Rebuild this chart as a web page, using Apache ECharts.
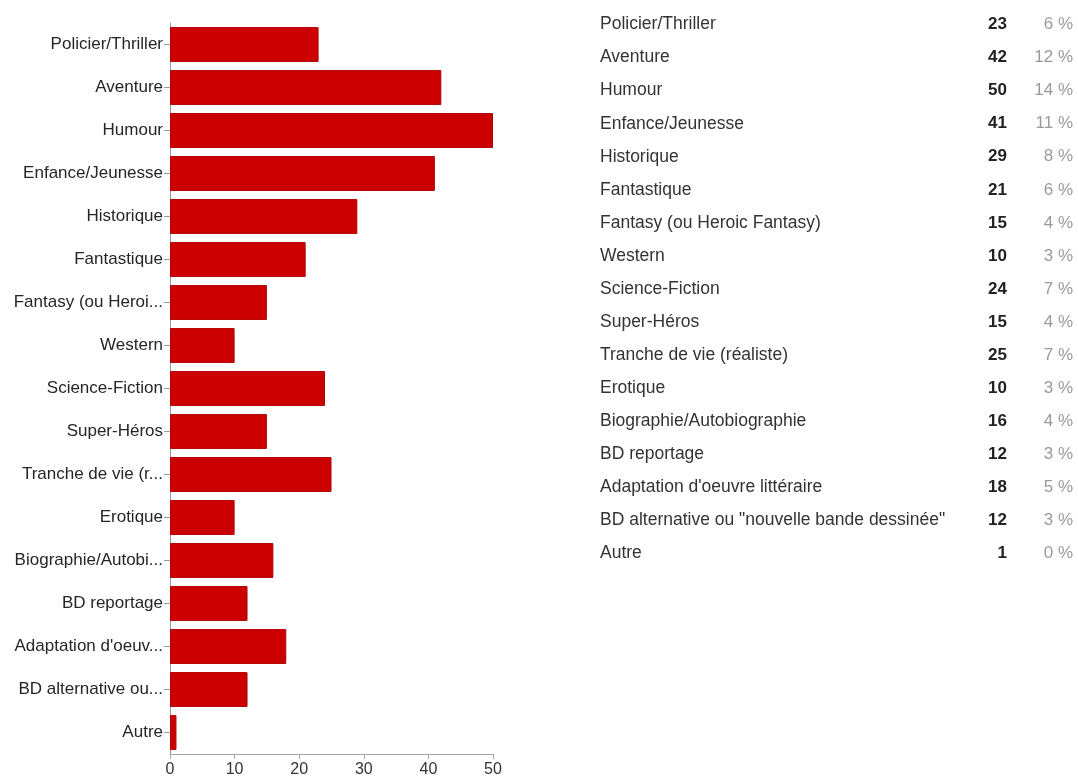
<!DOCTYPE html>
<html>
<head>
<meta charset="utf-8">
<script src="https://cdn.jsdelivr.net/npm/echarts@6/dist/echarts.min.js"></script>
<style>
  html, body { margin: 0; padding: 0; background: #ffffff; }
  #chart { width: 1078px; height: 778px; }
</style>
</head>
<body>
<div id="chart"></div>
<script>
// Genres of comics (BD) chosen, with response counts and shares
const genres = [
  'Policier/Thriller',
  'Aventure',
  'Humour',
  'Enfance/Jeunesse',
  'Historique',
  'Fantastique',
  'Fantasy (ou Heroic Fantasy)',
  'Western',
  'Science-Fiction',
  'Super-Héros',
  'Tranche de vie (réaliste)',
  'Erotique',
  'Biographie/Autobiographie',
  'BD reportage',
  "Adaptation d'oeuvre littéraire",
  'BD alternative ou "nouvelle bande dessinée"',
  'Autre'
];
const counts = [23, 42, 50, 41, 29, 21, 15, 10, 24, 15, 25, 10, 16, 12, 18, 12, 1];
const percents = [6, 12, 14, 11, 8, 6, 4, 3, 7, 4, 7, 3, 4, 3, 5, 3, 0];
const xTicks = { min: 0, max: 50, step: 10 };

const FONT = '"Liberation Sans", Arial, sans-serif';

// long genre names are shortened on the bar axis
function shortName(name) {
  return name.length > 20 ? name.slice(0, 17) + '...' : name;
}

const chart = echarts.init(document.getElementById('chart'), null, { renderer: 'canvas' });

chart.setOption({
  backgroundColor: '#ffffff',
  animation: false,
  textStyle: { fontFamily: FONT },
  grid: [
    { left: 170, top: 23, width: 323, height: 734, containLabel: false },
    { left: 600, top: 8, width: 473, height: 562, containLabel: false }
  ],
  xAxis: [
    {
      gridIndex: 0,
      type: 'value',
      min: xTicks.min,
      max: xTicks.max,
      interval: xTicks.step,
      axisLine: { show: true, lineStyle: { color: '#a6a6a6', width: 1 } },
      axisTick: { show: true, inside: false, length: 5, lineStyle: { color: '#a6a6a6' } },
      splitLine: { show: false },
      axisLabel: { color: '#333333', fontSize: 16, margin: 8, fontFamily: FONT }
    },
    {
      gridIndex: 1,
      type: 'value',
      min: 0,
      max: 1,
      show: false
    }
  ],
  yAxis: [
    {
      gridIndex: 0,
      type: 'category',
      inverse: true,
      data: genres,
      axisLine: { show: true, lineStyle: { color: '#9a9a9a', width: 1 } },
      axisTick: { show: true, alignWithLabel: true, length: 6, lineStyle: { color: '#9a9a9a' } },
      axisLabel: {
        interval: 0,
        color: '#262626',
        fontSize: 17,
        margin: 7,
        fontFamily: FONT,
        formatter: function (v) { return shortName(v); }
      }
    },
    {
      gridIndex: 1,
      type: 'category',
      inverse: true,
      data: genres,
      axisLine: { show: false },
      axisTick: { show: false },
      axisLabel: {
        interval: 0,
        inside: true,
        margin: 0,
        fontFamily: FONT,
        formatter: function (v, i) {
          return '{n|' + v + '}{c|' + counts[i] + '}{p|' + percents[i] + ' %}';
        },
        rich: {
          n: { width: 360, align: 'left', color: '#333333', fontSize: 17.5, fontFamily: FONT },
          c: { width: 47, align: 'right', color: '#222222', fontSize: 17, fontWeight: 'bold', fontFamily: FONT },
          p: { width: 66, align: 'right', color: '#9a9a9a', fontSize: 17, fontFamily: FONT }
        }
      }
    }
  ],
  series: [
    {
      type: 'bar',
      xAxisIndex: 0,
      yAxisIndex: 0,
      data: counts,
      barCategoryGap: '19%',
      itemStyle: { color: '#cc0000', borderColor: '#b00000', borderWidth: 1 },
      label: { show: false }
    }
  ]
});
</script>
</body>
</html>
